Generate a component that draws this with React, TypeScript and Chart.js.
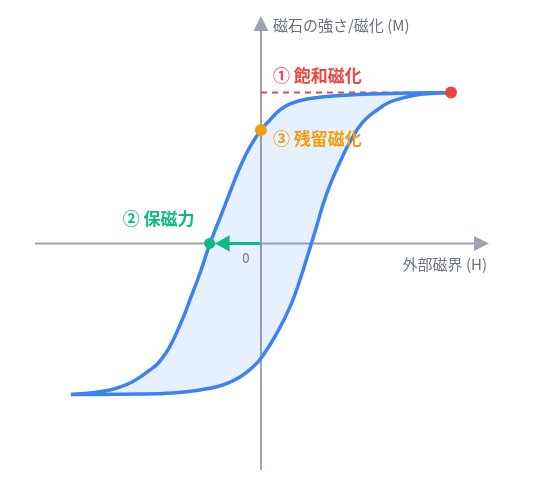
import React, { useEffect, useRef } from "react";
import { Chart, registerables } from "chart.js";

Chart.register(...registerables);

// Descending branch (from +saturation back through remanence and coercivity), listed by H
const upperH = [-1.0, -0.9, -0.795, -0.689, -0.584, -0.541, -0.496, -0.462, -0.43, -0.4, -0.374, -0.321, -0.268, -0.205, -0.163, -0.11, -0.058, 0, 0.047, 0.1, 0.153, 0.242, 0.416, 0.68, 1.0];
const upperM = [-1.0, -0.99, -0.97, -0.924, -0.838, -0.793, -0.717, -0.639, -0.551, -0.462, -0.374, -0.197, 0, 0.202, 0.34, 0.507, 0.639, 0.751, 0.818, 0.884, 0.925, 0.957, 0.98, 0.993, 1.0];

// Ascending branch
const lowerH = [-1.0, -0.637, -0.463, -0.321, -0.2, -0.11, -0.042, 0.005, 0.084, 0.153, 0.205, 0.258, 0.295, 0.326, 0.363, 0.416, 0.468, 0.537, 0.611, 0.679, 0.768, 0.853, 1.0];
const lowerM = [-1.0, -0.997, -0.99, -0.97, -0.937, -0.884, -0.818, -0.752, -0.593, -0.42, -0.242, -0.03, 0.123, 0.255, 0.387, 0.54, 0.672, 0.805, 0.884, 0.937, 0.97, 0.99, 1.0];

// Key points
const saturation = { H: 1.0, M: 1.0 };
const remanence = { H: 0, M: 0.751 };
const coercivity = { H: -0.27, M: 0 };
const arrowHeadH = -0.19;

// Axis ranges
const xMin = -1.189;
const xMax = 1.2;
const yMin = -1.5;
const yMax = 1.513;

// Texts
const yTitle = "磁石の強さ/磁化 (M)";
const xTitle = "外部磁界 (H)";
const zeroLabel = "0";
const satLabel = "① 飽和磁化";
const remLabel = "③ 残留磁化";
const coerLabel = "② 保磁力";

const BLUE = "#3b82f6";
const RED = "#ef4444";
const ORANGE = "#f59e0b";
const GREEN = "#10b981";
const AXIS = "#9ca3af";
const TEXT = "#6b7280";
const FONT = "'Noto Sans CJK JP', 'Noto Sans', sans-serif";

const zip = (xs: number[], ys: number[]) => xs.map((x, i) => ({ x, y: ys[i] }));

const annotatePlugin = {
  id: "annotate",
  beforeDatasetsDraw(chart: any) {
    const { ctx, scales } = chart;
    const xs = scales.x;
    const ys = scales.y;
    const x0 = xs.getPixelForValue(0);
    const y0 = ys.getPixelForValue(0);
    const left = xs.getPixelForValue(xMin);
    const right = xs.getPixelForValue(xMax);
    const top = ys.getPixelForValue(yMax);
    const bottom = ys.getPixelForValue(yMin);
    ctx.save();
    ctx.strokeStyle = AXIS;
    ctx.fillStyle = AXIS;
    ctx.lineWidth = 2;
    ctx.beginPath();
    ctx.moveTo(left, y0);
    ctx.lineTo(right - 12, y0);
    ctx.moveTo(x0, bottom);
    ctx.lineTo(x0, top + 12);
    ctx.stroke();
    // arrowheads
    ctx.beginPath();
    ctx.moveTo(right, y0);
    ctx.lineTo(right - 15, y0 - 7.5);
    ctx.lineTo(right - 15, y0 + 7.5);
    ctx.closePath();
    ctx.fill();
    ctx.beginPath();
    ctx.moveTo(x0, top + 1);
    ctx.lineTo(x0 - 7.5, top + 16);
    ctx.lineTo(x0 + 7.5, top + 16);
    ctx.closePath();
    ctx.fill();
    ctx.restore();
  },
  afterDatasetsDraw(chart: any) {
    const { ctx, scales } = chart;
    const xs = scales.x;
    const ys = scales.y;
    const x0 = xs.getPixelForValue(0);
    const y0 = ys.getPixelForValue(0);
    const right = xs.getPixelForValue(xMax);
    const top = ys.getPixelForValue(yMax);
    ctx.save();
    ctx.textBaseline = "middle";
    ctx.fillStyle = TEXT;
    ctx.font = `15px ${FONT}`;
    ctx.textAlign = "left";
    ctx.fillText(yTitle, x0 + 12, top + 10);
    ctx.textAlign = "right";
    ctx.fillText(xTitle, right - 2, y0 + 21);
    ctx.font = `13px ${FONT}`;
    ctx.textAlign = "center";
    ctx.fillText(zeroLabel, x0 - 15, y0 + 15);

    ctx.font = `bold 17px ${FONT}`;
    ctx.textAlign = "left";
    ctx.fillStyle = RED;
    ctx.fillText(satLabel, x0 + 12, ys.getPixelForValue(saturation.M) - 17);
    ctx.fillStyle = ORANGE;
    ctx.fillText(remLabel, x0 + 12, ys.getPixelForValue(remanence.M) + 8);
    ctx.fillStyle = GREEN;
    ctx.fillText(coerLabel, xs.getPixelForValue(coercivity.H) - 87, y0 - 25);
    ctx.restore();
  },
};

export default function App() {
  const ref = useRef<HTMLCanvasElement | null>(null);
  useEffect(() => {
    if (!ref.current) return;
    const chart = new Chart(ref.current, {
      type: "scatter",
      data: {
        datasets: [
          {
            label: "upper",
            data: zip(upperH, upperM),
            showLine: true,
            borderColor: BLUE,
            borderWidth: 3.5,
            pointRadius: 0,
            tension: 0.4,
            fill: false,
            order: 2,
          } as any,
          {
            label: "lower",
            data: zip(lowerH, lowerM),
            showLine: true,
            borderColor: BLUE,
            borderWidth: 3.5,
            pointRadius: 0,
            tension: 0.4,
            fill: { target: 0 },
            backgroundColor: "rgba(59,130,246,0.12)",
            order: 2,
          } as any,
          {
            label: "satLine",
            data: [
              { x: 0, y: saturation.M },
              { x: saturation.H, y: saturation.M },
            ],
            showLine: true,
            borderColor: RED,
            borderWidth: 2,
            borderDash: [6, 5],
            pointRadius: 0,
            order: 3,
          } as any,
          {
            label: "arrow",
            data: [
              { x: 0, y: 0 },
              { x: arrowHeadH, y: 0 },
            ],
            showLine: true,
            borderColor: GREEN,
            borderWidth: 3,
            pointRadius: [0, 9.5],
            pointStyle: "triangle",
            rotation: -90,
            pointBackgroundColor: GREEN,
            pointBorderColor: GREEN,
            pointBorderWidth: 0,
            order: 1,
          } as any,
          {
            label: "sat",
            data: [{ x: saturation.H, y: saturation.M }],
            pointRadius: 6,
            pointBackgroundColor: RED,
            pointBorderWidth: 0,
            order: 0,
          } as any,
          {
            label: "rem",
            data: [{ x: remanence.H, y: remanence.M }],
            pointRadius: 6,
            pointBackgroundColor: ORANGE,
            pointBorderWidth: 0,
            order: 0,
          } as any,
          {
            label: "coer",
            data: [{ x: coercivity.H, y: coercivity.M }],
            pointRadius: 5.5,
            pointBackgroundColor: GREEN,
            pointBorderWidth: 0,
            order: 0,
          } as any,
        ],
      },
      options: {
        animation: false,
        responsive: false,
        events: [],
        layout: { padding: { left: 35, right: 46, top: 15, bottom: 14 } },
        plugins: { legend: { display: false }, tooltip: { enabled: false } },
        scales: {
          x: { type: "linear", min: xMin, max: xMax, display: false },
          y: { type: "linear", min: yMin, max: yMax, display: false },
        },
      },
      plugins: [annotatePlugin],
    });
    return () => chart.destroy();
  }, []);
  return (
    <div style={{ position: "absolute", left: 0, top: 0, width: 535, height: 484, background: "#fff" }}>
      <canvas ref={ref} width={535} height={484} />
    </div>
  );
}
